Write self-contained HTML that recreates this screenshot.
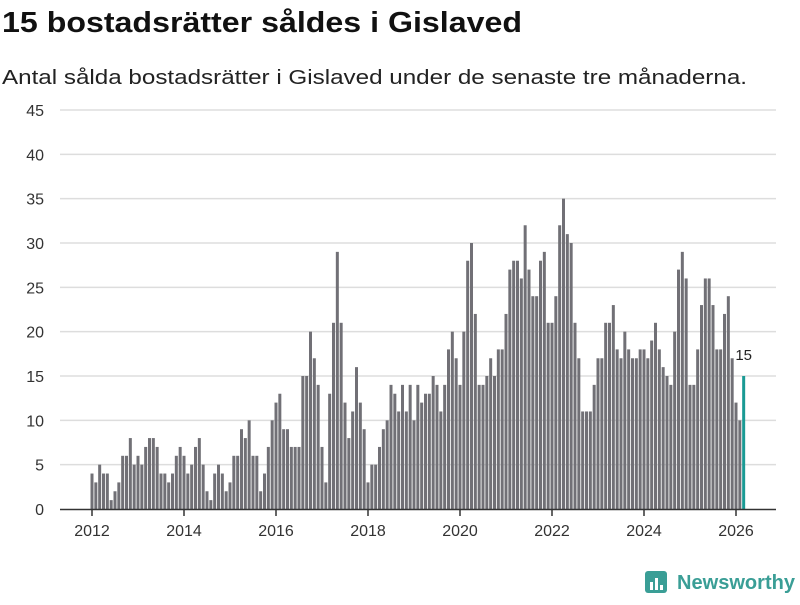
<!DOCTYPE html>
<html><head><meta charset="utf-8"><style>
body{margin:0;background:#fff;font-family:"Liberation Sans",sans-serif}
svg text{font-family:"Liberation Sans",sans-serif}
</style></head><body>
<svg width="800" height="600">
<text x="2" y="32" font-size="29" font-weight="bold" fill="#111" textLength="520" lengthAdjust="spacingAndGlyphs">15 bostadsrätter såldes i Gislaved</text>
<text x="2" y="84" font-size="20" fill="#222" textLength="745" lengthAdjust="spacingAndGlyphs">Antal sålda bostadsrätter i Gislaved under de senaste tre månaderna.</text>
<g id="grid"></g>
<g id="bars"></g>
<g id="xaxis"></g>
<g>
<rect x="645" y="571" width="22" height="22" rx="3" fill="#3a9e96"/>
<rect x="650" y="582" width="3" height="8" fill="#fff"/><rect x="655" y="578" width="3" height="12" fill="#fff"/><rect x="660" y="585" width="3" height="5" fill="#fff"/>
<text x="677" y="589" font-size="20" font-weight="bold" fill="#3a9e96" textLength="118" lengthAdjust="spacingAndGlyphs">Newsworthy</text>
</g>
</svg>
<script>
const values=[4,3,5,4,4,1,2,3,6,6,8,5, 6,5,7,8,8,7,4,4,3,4,6,7, 6,4,5,7,8,5,2,1,4,5,4,2, 3,6,6,9,8,10,6,6,2,4,7,10,
12,13,9,9,7,7,7,15,15,20,17,14,7,3,13,21,29,21,12,8,11,16,12,9,3,5,5,7,9,10,14,13,11,14,11,14,10,14,12,13,13,15,14,11,14,18,20,
17,14,20,28,30,22,14,14,15,17,15,18,18,22,27,28,28,26,32,27,24,24,28,29,21,21,24,32,35,31,30,21,17,11,11,11,
14,17,17,21,21,23,18,17,20,18,17,17,18,18,17,19,21,18,16,15,14,20,27,29,26,14,14,18,23,26,26,23,18,18,22,24,17,12,10,15];
const startYear=2012;
const yTicks=[0,5,10,15,20,25,30,35,40,45];
const xTickYears=[2012,2014,2016,2018,2020,2022,2024,2026];
const ns="http://www.w3.org/2000/svg";
const y0=509,yPer=(509-110)/45;
function y(v){return y0-v*yPer;}
function x(i){return 92+i*(644/168);}
function mk(t,a,p){const e=document.createElementNS(ns,t);for(const k in a)e.setAttribute(k,a[k]);p.appendChild(e);return e;}
const g=document.getElementById('grid');
yTicks.forEach(v=>{
 if(v>0){const l=mk('line',{x1:60,x2:776,y1:y(v),y2:y(v),stroke:'#ddd','stroke-width':1.5},g);
 
 }
 const t=mk('text',{x:44,y:y(v)+6,'text-anchor':'end','font-size':16,fill:'#333'},g);
 
 
 t.textContent=v;
});
const b=document.getElementById('bars');
values.forEach((v,i)=>{
 const last=i===values.length-1;
 const r=mk('rect',{x:x(i)-1.5,y:y(v),width:3,height:v*yPer,fill:last?'#1a9a94':'#717076'},b);
 
 
 if(last){const t=mk('text',{x:x(i),y:y(v)-16,'text-anchor':'middle','font-size':15,fill:'#222'},b);
 
 
 t.textContent=v;}
});
const xa=document.getElementById('xaxis');
const ax=mk('line',{x1:60,x2:776,y1:509.5,y2:509.5,stroke:'#333','stroke-width':1.5},xa);


xTickYears.forEach(yr=>{
 const i=(yr-startYear)*12, xx=x(i);
 const l=mk('line',{x1:xx,x2:xx,y1:509,y2:516,stroke:'#333','stroke-width':1.5},xa);
 
 
 const t=mk('text',{x:xx,y:536,'text-anchor':'middle','font-size':16,fill:'#333'},xa);
 
 
 t.textContent=yr;
});
</script>
</body></html>
